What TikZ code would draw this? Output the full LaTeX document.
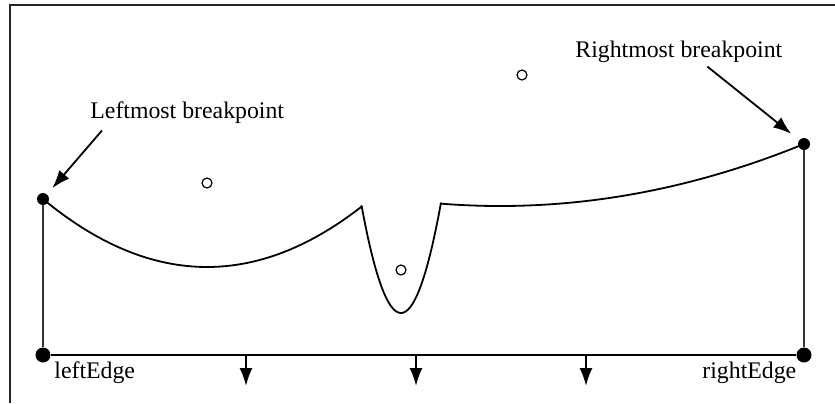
\documentclass[tikz,border=0pt]{standalone}
\usepackage{fontspec}
\setmainfont{Liberation Serif}
\usetikzlibrary{arrows.meta}
\begin{document}
\begin{tikzpicture}[x=0.5pt, y=-0.5pt, font=\fontsize{11.9}{14}\selectfont]
  \tikzstyle{bpoint} = [circle, fill=black, inner sep=0pt, minimum size=6pt]
  \tikzstyle{edgept} = [circle, fill=black, inner sep=0pt, minimum size=7.5pt]
  \tikzstyle{site} = [circle, draw, line width=0.6pt, inner sep=0pt, minimum size=5pt]
  \tikzstyle{txt} = [inner sep=0pt, anchor=base west]
  \tikzstyle{ptr} = [line width=0.9pt, -{Latex[length=9pt,width=6.5pt]}]
  \tikzstyle{drop} = [line width=1pt, -{Latex[length=9pt,width=6.5pt]}]
  \tikzstyle{beach} = [line width=0.9pt]

  \useasboundingbox (0,0) rectangle (835,403);
  \draw[line width=0.75pt, black!85] (10,403) -- (10,5) -- (835,5);

  % breakpoints and edges
  \node[edgept] (ledge) at (43,355) {};
  \node[edgept] (redge) at (804,355) {};
  \node[bpoint] (lbp) at (43,199) {};
  \node[bpoint] (rbp) at (804,144) {};

  % sites
  \node[site] (s1) at (207,183) {};
  \node[site] (s2) at (401,270) {};
  \node[site] (s3) at (522,75) {};

  % labels
  \node[txt] (lbl) at (90,118) {Leftmost breakpoint};
  \node[txt] (rbl) at (575,57) {Rightmost breakpoint};
  \node[txt] (ltxt) at (54,378) {leftEdge};
  \node[txt] (rtxt) at (702,378) {rightEdge};

  \draw[line width=1pt] (ledge) -- (redge);
  \draw[line width=0.6pt, black!80] (lbp) -- (ledge);
  \draw[line width=0.6pt, black!80] (rbp) -- (redge);

  % beach line
  \draw[beach] plot[domain=43:361.5, samples=50] (\x, {267-25.28*((\x-207)/100)^2})
    -- plot[domain=361.5:441, samples=40] (\x, {313-0.069*(\x-401)^2})
    -- plot[domain=441:804, samples=50] (\x, {206-6.71*((\x-500)/100)^2});

  \draw[ptr, shorten >=4pt] ([shift={(12,7)}]lbl.south west) -- (lbp);
  \draw[ptr, shorten >=5pt] ([shift={(28.5,4)}]rbl.south) -- (rbp);

  \foreach \i/\xx in {1/246, 2/416, 3/586} {
    \coordinate (q\i) at (\xx,355);
    \coordinate (t\i) at (\xx,386);
    \draw[drop] (q\i) -- (t\i);
  }
\end{tikzpicture}
\end{document}
